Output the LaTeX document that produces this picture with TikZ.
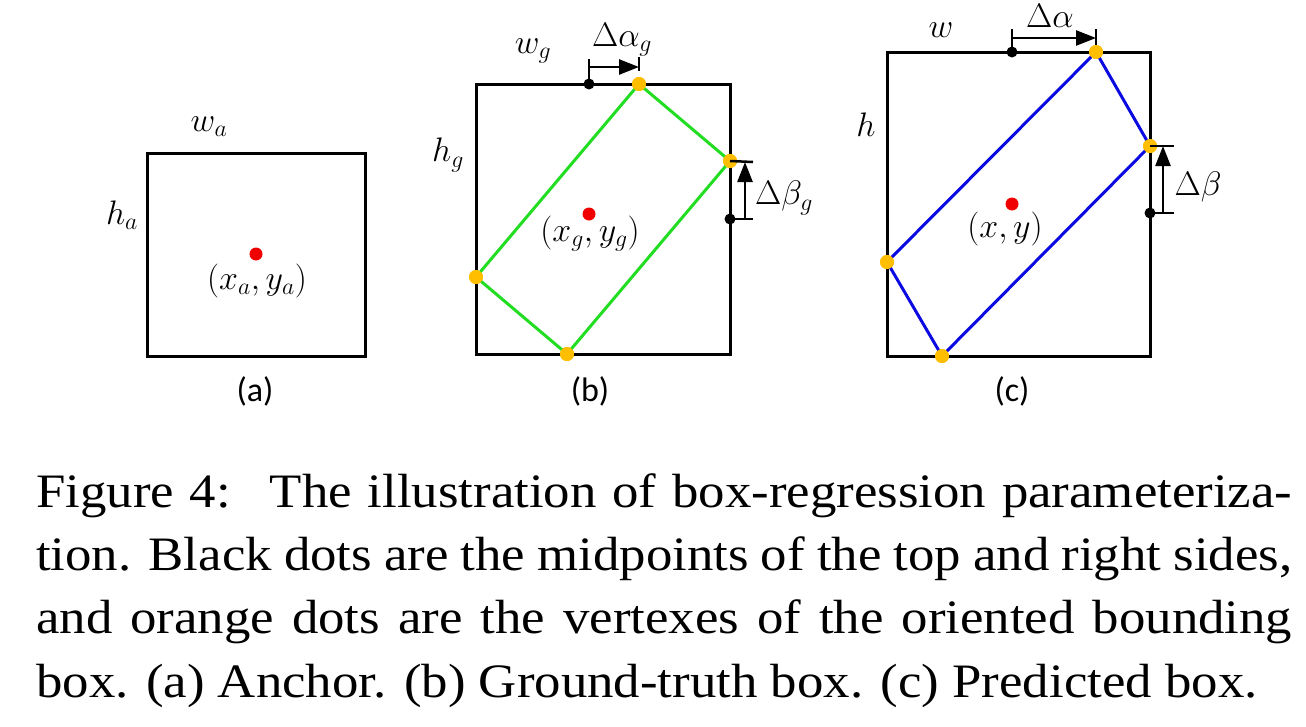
\RequirePackage{fix-cm}
\documentclass[tikz,border=0pt]{standalone}
\usepackage{fontspec}
\setmainfont{Liberation Serif}
\newfontfamily\panelfont{Carlito}
\newfontfamily\capfont[FakeStretch=1.1]{Liberation Serif}
\usetikzlibrary{arrows.meta}
\usetikzlibrary{positioning}
\definecolor{obbgreen}{RGB}{34,221,34}
\definecolor{obbblue}{RGB}{10,10,225}
\definecolor{vtxorange}{RGB}{255,190,0}
\definecolor{ctrred}{RGB}{240,0,0}
\tikzset{
    x=1pt, y=-1pt,
    frame/.style={
        draw,
        line width=3pt
    },
    obb/.style={
        draw,
        line width=3pt
    },
    vertex/.style={
        circle, inner sep=0pt,
        minimum size=14pt,
        fill=vtxorange
    },
    midpt/.style={
        circle, inner sep=0pt,
        minimum size=11pt,
        fill=black
    },
    centre/.style={
        circle, inner sep=0pt,
        minimum size=13pt,
        fill=ctrred
    },
    tick/.style={
        draw,
        line width=2.5pt
    },
    offsetarrow/.style={
        draw,
        line width=2.5pt,
        -{Triangle[length=20pt,width=15pt]}
    },
    sym/.style={
        inner sep=0pt,
        font=\fontsize{34}{40}\selectfont
    },
    panel/.style={
        inner sep=0pt,
        font=\panelfont\fontsize{34}{40}\selectfont
    },
    capline/.style={
        anchor=base west,
        inner sep=0pt,
        font=\capfont\fontsize{48}{63}\selectfont
    }
}

\begin{document}
\begin{tikzpicture}
    \useasboundingbox (0,0) rectangle (1306,726);

    % (a) anchor
    \draw[frame] (147,153) rectangle (365,356);
    \node[centre] (ca) at (256,254) {};
    \node[sym] (wa) at (209,127) {$w_a$};
    \node[sym] (ha) at (122,215) {$h_a$};
    \node[sym] (xya) at (257,281) {$\bigl(x_a,y_a\bigr)$};
    \node[panel] (pa) at (255,391) {(a)};

    % (b) ground truth
    \draw[frame] (476,84) rectangle (730,354);
    \node[vertex] (gT) at (639,84) {};
    \node[vertex] (gR) at (730,161) {};
    \node[vertex] (gB) at (567,354) {};
    \node[vertex] (gL) at (476,277) {};
    \draw[obb, obbgreen] (gT.center) -- (gR.center) -- (gB.center) -- (gL.center) -- cycle;
    \node[vertex] at (gT) {};
    \node[vertex] at (gR) {};
    \node[vertex] at (gB) {};
    \node[vertex] at (gL) {};
    \node[midpt] (gMt) at (589,84) {};
    \node[midpt] (gMr) at (730,219) {};
    \node[centre] (cg) at (589,214) {};
    \coordinate (gAl) at (589,59);
    \coordinate (gAr) at (639,57);
    \coordinate (gAs) at (589,67);
    \coordinate (gAe) at (639,67);
    \draw[tick] (gMt.center) -- (gAl);
    \draw[tick] (gAr) -- ++(0,14);
    \draw[offsetarrow] (gAs) -- (gAe);
    \coordinate (gBt) at (753,162);
    \coordinate (gBb) at (753,219);
    \coordinate (gBs) at (745,219);
    \coordinate (gBe) at (745,162);
    \draw[tick] (gR.center) -- (gBt);
    \draw[tick] (gMr.center) -- (gBb);
    \draw[offsetarrow] (gBs) -- (gBe);
    \node[sym] (wg) at (533,51) {$w_g$};
    \node[sym] (dag) at (622,40) {$\Delta\alpha_g$};
    \node[sym] (hg) at (448,155) {$h_g$};
    \node[sym] (dbg) at (784,198) {$\Delta\beta_g$};
    \node[sym] (xyg) at (590,234) {$\bigl(x_g,y_g\bigr)$};
    \node[panel] (pb) at (590,391) {(b)};

    % (c) prediction
    \draw[frame] (887,52) rectangle (1150,356);
    \node[vertex] (pT) at (1096,52) {};
    \node[vertex] (pR) at (1150,146) {};
    \node[vertex] (pB) at (942,356) {};
    \node[vertex] (pL) at (887,262) {};
    \draw[obb, obbblue] (pT.center) -- (pR.center) -- (pB.center) -- (pL.center) -- cycle;
    \node[vertex] at (pT) {};
    \node[vertex] at (pR) {};
    \node[vertex] at (pB) {};
    \node[vertex] at (pL) {};
    \node[midpt] (pMt) at (1012,52) {};
    \node[midpt] (pMr) at (1150,213) {};
    \node[centre] (cp) at (1012,204) {};
    \coordinate (pAl) at (1012,29);
    \coordinate (pAr) at (1096,29);
    \coordinate (pAs) at (1012,38);
    \coordinate (pAe) at (1096,38);
    \draw[tick] (pMt.center) -- (pAl);
    \draw[tick] (pAr) -- ++(0,16);
    \draw[offsetarrow] (pAs) -- (pAe);
    \coordinate (pBt) at (1174,146);
    \coordinate (pBb) at (1174,213);
    \coordinate (pBs) at (1163,213);
    \coordinate (pBe) at (1163,146);
    \draw[tick] (pR.center) -- (pBt);
    \draw[tick] (pMr.center) -- (pBb);
    \draw[offsetarrow] (pBs) -- (pBe);
    \node[sym] (wp) at (941,30) {$w$};
    \node[sym] (dap) at (1050,16) {$\Delta\alpha$};
    \node[sym] (hp) at (866,125) {$h$};
    \node[sym] (dbp) at (1198,187) {$\Delta\beta$};
    \node[sym] (xyp) at (1005,229) {$\bigl(x,y\bigr)$};
    \node[panel] (pc) at (1012,391) {(c)};

    % caption
    \node[capline] (cap1) at (36,507) {\makebox[1256pt][s]{Figure 4: \ The illustration of box-regression parameteriza-}};
    \node[capline] (cap2) at (36,570) {\makebox[1256pt][s]{tion. Black dots are the midpoints of the top and right sides,}};
    \node[capline] (cap3) at (36,633) {\makebox[1256pt][s]{and orange dots are the vertexes of the oriented bounding}};
    \node[capline] (cap4) at (36,697) {box. (a) Anchor. (b) Ground-truth box. (c) Predicted box.};
\end{tikzpicture}
\end{document}
